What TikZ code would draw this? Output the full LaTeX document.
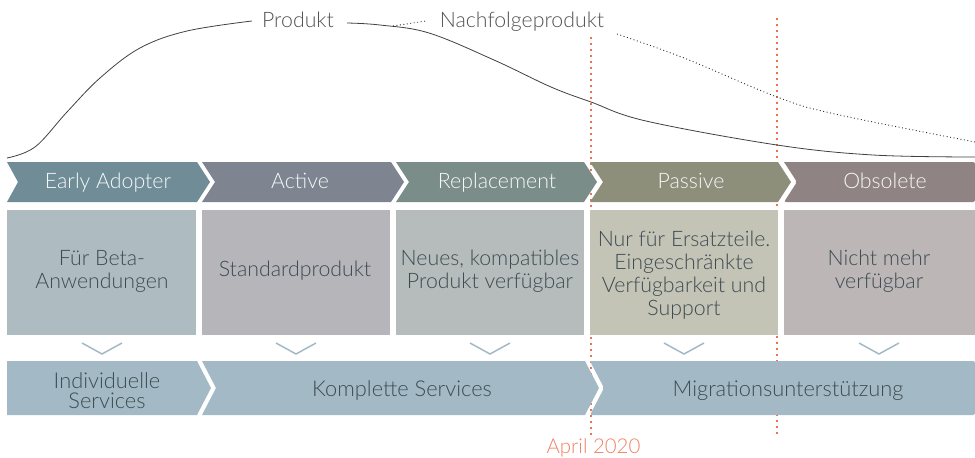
\documentclass[tikz,border=0pt]{standalone}
\usepackage{fontspec}
\setmainfont{Lato Light}
\definecolor{cA}{HTML}{6F8C97}
\definecolor{cB}{HTML}{7E8591}
\definecolor{cC}{HTML}{7B8D88}
\definecolor{cD}{HTML}{8D8F7B}
\definecolor{cE}{HTML}{8F8383}
\definecolor{bA}{HTML}{AEBCC2}
\definecolor{bB}{HTML}{B5B5BA}
\definecolor{bC}{HTML}{B5BCBB}
\definecolor{bD}{HTML}{C3C3B6}
\definecolor{bE}{HTML}{BDB6B6}
\definecolor{svc}{HTML}{A3BAC6}
\definecolor{txtdark}{HTML}{3D4B52}
\definecolor{redl}{HTML}{F0714F}
\definecolor{aprl}{HTML}{F08060}
\definecolor{curvec}{HTML}{404040}
\begin{document}
\begin{tikzpicture}[x=1pt,y=-1pt,
  chevlab/.style={font=\fontsize{21.3}{24}\selectfont, text=white!94!cA, inner sep=0pt, anchor=base},
  boxtxt/.style={font=\fontsize{21.3}{23}\selectfont, text=txtdark, align=center, inner sep=0pt},
  svctxt/.style={font=\fontsize{21.8}{20}\selectfont, text=txtdark, align=center, inner sep=0pt},
  toplab/.style={font=\fontsize{21.3}{24}\selectfont, text=curvec!90!white, inner sep=0pt, anchor=base},
  redline/.style={draw=redl, line width=1.6pt, dash pattern=on 1.6pt off 4.4pt},
  solidcurve/.style={draw=curvec, line width=0.8pt},
  dotcurve/.style={draw=black!85, line width=0.9pt, dash pattern=on 0.9pt off 2.6pt},
  vmark/.style={draw=svc, line width=1.5pt}]
\useasboundingbox (0,0) rectangle (975,458);
% red date lines (behind)
\coordinate (r1t) at (591,37);
\coordinate (r1b) at (591,437);
\coordinate (r2t) at (777,18);
\coordinate (r2b) at (777,437);
\draw[redline] (r1t) -- (r1b);
\draw[redline] (r2t) -- (r2b);
% labels on the curves
\node[toplab] (prod) at (298,27.7) {Produkt};
\node[toplab] (nach) at (522,27.7) {Nachfolgeprodukt};
\node[font=\fontsize{20.4}{22}\selectfont, text=aprl, inner sep=0pt, anchor=base] (april) at (593.5,453.3) {April 2020};
% curves
\draw[solidcurve] plot[smooth, tension=0.6] coordinates {(7,158) (35,147) (67,112) (100,78) (140,48) (187,31) (252,21)};
\draw[solidcurve] plot[smooth, tension=0.6] coordinates {(347,23) (380,25) (429,33) (494,60) (551,87) (591,102) (646,121) (777,145) (873,155) (975,157)};
\draw[dotcurve] (393,26) -- (426,21);
\draw[dotcurve] plot[smooth, tension=0.6] coordinates {(617,34) (684,58) (777,97) (835,114) (975,142)};
% phase chevrons
\fill[cA] (7,162) -- (197,162) -- (210,182) -- (197,202) -- (7,202) -- (18,182) -- cycle;
\fill[cB] (202,162) -- (391,162) -- (404,182) -- (391,202) -- (202,202) -- (215,182) -- cycle;
\fill[cC] (396,162) -- (584,162) -- (597,182) -- (584,202) -- (396,202) -- (409,182) -- cycle;
\fill[cD] (590,162) -- (778,162) -- (791,182) -- (778,202) -- (590,202) -- (603,182) -- cycle;
\fill[cE, rounded corners=2pt] (784,162) -- (975,162) -- (975,202) -- (784,202) -- (797,182) [sharp corners] -- cycle;
\node[chevlab] (ph1) at (108,188.5) {Early Adopter};
\node[chevlab] (ph2) at (300,188.5) {Active};
\node[chevlab] (ph3) at (497,188.5) {Replacement};
\node[chevlab] (ph4) at (691,188.5) {Passive};
\node[chevlab] (ph5) at (885,188.5) {Obsolete};
% description boxes
\fill[bA] (7,210) rectangle (196,335);
\fill[bB] (202,210) rectangle (390,335);
\fill[bC] (396,210) rectangle (584,335);
\fill[bD] (590,210) rectangle (778,335);
\fill[bE] (784,210) rectangle (975,335);
\node[boxtxt] (d1) at (102,271.5) {Für Beta-\\Anwendungen};
\node[boxtxt, anchor=base] (d2) at (295,276.7) {Standardprodukt};
\node[boxtxt] (d3) at (490,271.5) {Neues, kompatibles\\Produkt verfügbar};
\node[boxtxt] (d4) at (684,275) {Nur für Ersatzteile.\\Eingeschränkte\\Verfügbarkeit und\\Support};
\node[boxtxt] (d5) at (879,271.5) {Nicht mehr\\verfügbar};
% small down marks
\foreach \c in {102,296,490,684,879}{
  \draw[vmark] (\c-20,343) -- (\c,354) -- (\c+20,343);
}
% service row
\fill[svc] (7,361) -- (197,361) -- (211,388) -- (197,415) -- (7,415) -- cycle;
\fill[svc] (202,361) -- (585,361) -- (599,388) -- (585,415) -- (202,415) -- (216,388) -- cycle;
\fill[svc, rounded corners=2pt] (590,361) -- (975,361) -- (975,415) -- (590,415) -- (604,388) [sharp corners] -- cycle;
\node[svctxt] (s1) at (107,391) {Individuelle\\Services};
\node[svctxt, anchor=base] (s2) at (402,396.7) {Komplette Services};
\node[svctxt, anchor=base] (s3) at (788,396.7) {Migrationsunterstützung};
\end{tikzpicture}
\end{document}
